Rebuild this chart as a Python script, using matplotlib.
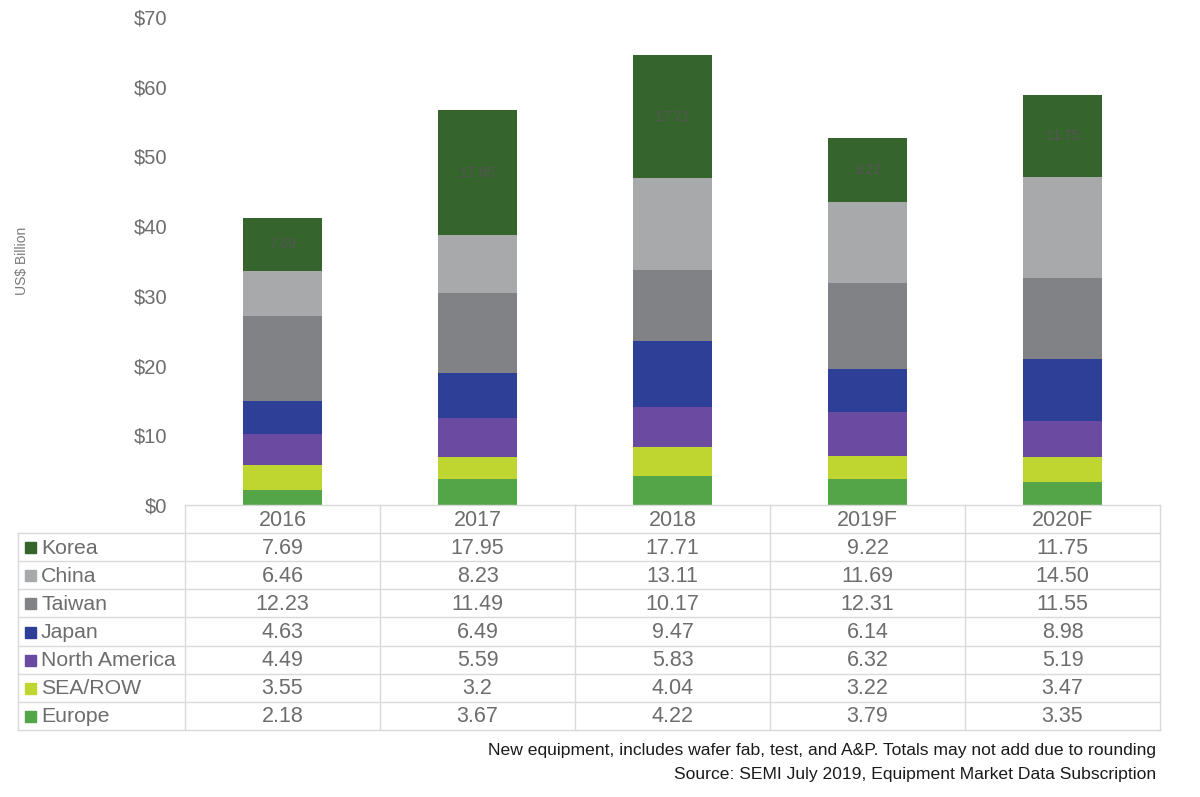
import numpy as np
import matplotlib.pyplot as plt

plt.rcParams['font.family'] = ['Liberation Sans', 'DejaVu Sans']

# data
years = ['2016', '2017', '2018', '2019F', '2020F']
regions = ['Korea', 'China', 'Taiwan', 'Japan', 'North America', 'SEA/ROW', 'Europe']
korea = [7.69, 17.95, 17.71, 9.22, 11.75]
china = [6.46, 8.23, 13.11, 11.69, 14.50]
taiwan = [12.23, 11.49, 10.17, 12.31, 11.55]
japan = [4.63, 6.49, 9.47, 6.14, 8.98]
north_america = [4.49, 5.59, 5.83, 6.32, 5.19]
sea_row = [3.55, 3.2, 4.04, 3.22, 3.47]
europe = [2.18, 3.67, 4.22, 3.79, 3.35]
table_text = [
    ['7.69', '17.95', '17.71', '9.22', '11.75'],
    ['6.46', '8.23', '13.11', '11.69', '14.50'],
    ['12.23', '11.49', '10.17', '12.31', '11.55'],
    ['4.63', '6.49', '9.47', '6.14', '8.98'],
    ['4.49', '5.59', '5.83', '6.32', '5.19'],
    ['3.55', '3.2', '4.04', '3.22', '3.47'],
    ['2.18', '3.67', '4.22', '3.79', '3.35'],
]
series = [korea, china, taiwan, japan, north_america, sea_row, europe]
colors = ['#35652d', '#a7a9aa', '#818285', '#2e3f98', '#6a4ba1', '#bfd630', '#53a548']

W, H = 1200, 797
fig = plt.figure(figsize=(12, 7.97), dpi=100)

# chart area
left, right, top, bottom = 185, 1160, 17, 505
ax = fig.add_axes([left / W, 1 - bottom / H, (right - left) / W, (bottom - top) / H])
x = np.arange(len(years))
base = np.zeros(len(years))
for name, vals, c in reversed(list(zip(regions, series, colors))):
    ax.bar(x, vals, 0.405, bottom=base, color=c, label=name, zorder=2)
    if name == 'Korea':
        for xi, b, v in zip(x, base, vals):
            ax.text(xi, b + v / 2, f'{v:.2f}', ha='center', va='center',
                    fontsize=10, color='#555555')
    base = base + np.array(vals)

ax.set_xlim(-0.5, len(years) - 0.5)
ax.set_ylim(0, 70)
ax.set_yticks(range(0, 71, 10))
ax.set_yticklabels([f'${v}' for v in range(0, 71, 10)], fontsize=14.5, color='#6d6d6d')
ax.tick_params(axis='y', length=0, pad=13)
ax.set_xticks([])
for s in ax.spines.values():
    s.set_visible(False)
fig.text(22 / W, 1 - 261 / H, 'US$ Billion', rotation=90, ha='center', va='center',
         fontsize=10, color='#7a7a7a')

# data table below the chart
tax = fig.add_axes([0, 0, 1, 1])
tax.set_xlim(0, W)
tax.set_ylim(H, 0)
tax.axis('off')
lc = '#d9d9d9'
col_w = (right - left) / len(years)
row_h = 28.15
leg_left = 18
tbl_top = bottom
hdr_bot = tbl_top + 28
tbl_bot = hdr_bot + row_h * len(regions)

tax.plot([left, right], [tbl_top, tbl_top], color=lc, lw=1)
for i in range(len(regions) + 1):
    yy = hdr_bot + i * row_h
    tax.plot([leg_left, right], [yy, yy], color=lc, lw=1)
for j in range(len(years) + 1):
    xx = left + j * col_w
    tax.plot([xx, xx], [tbl_top, tbl_bot], color=lc, lw=1)
tax.plot([leg_left, leg_left], [hdr_bot, tbl_bot], color=lc, lw=1)

for j, yr in enumerate(years):
    tax.text(left + (j + 0.5) * col_w, (tbl_top + hdr_bot) / 2 + 1, yr,
             ha='center', va='center', fontsize=15.5, color='#6d6d6d')
for i, (name, c) in enumerate(zip(regions, colors)):
    yc = hdr_bot + (i + 0.5) * row_h
    tax.add_patch(plt.Rectangle((25, yc - 5), 11, 11, color=c))
    tax.text(41, yc + 1, name, ha='left', va='center', fontsize=15.3, color='#6d6d6d')
    for j in range(len(years)):
        tax.text(left + (j + 0.5) * col_w, yc + 1, table_text[i][j],
                 ha='center', va='center', fontsize=15.5, color='#6d6d6d')

tax.text(1156, 751, 'New equipment, includes wafer fab, test, and A&P. Totals may not add due to rounding',
         ha='right', va='center', fontsize=12.6, color='#1a1a1a')
tax.text(1156, 775, 'Source: SEMI July 2019, Equipment Market Data Subscription',
         ha='right', va='center', fontsize=12.6, color='#1a1a1a')

plt.savefig('out.png', dpi=100)
plt.close()
